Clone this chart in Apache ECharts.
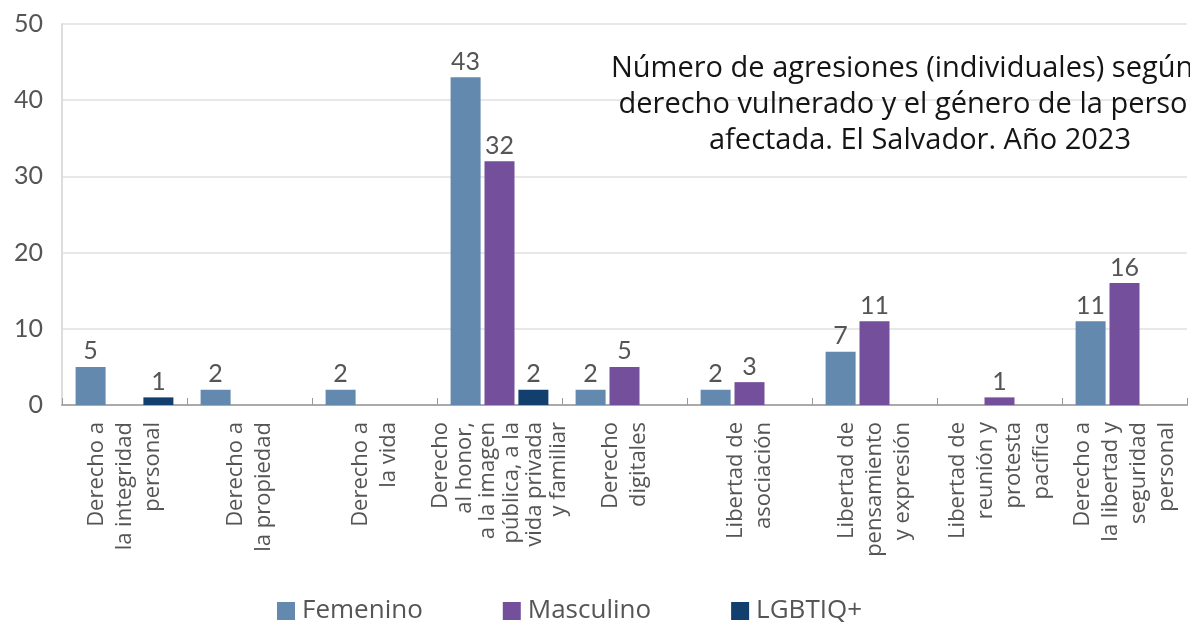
<!DOCTYPE html>
<html><head><meta charset="utf-8">
<script src="https://cdn.jsdelivr.net/npm/echarts@6/dist/echarts.min.js"></script>
<style>html,body{margin:0;padding:0;background:#fff}#c{width:1190px;height:622px}</style>
</head><body><div id="c"></div>
<script>
var categories = [
  "Derecho a\nla integridad\npersonal",
  "Derecho a\nla propiedad",
  "Derecho a\nla vida",
  "Derecho\nal honor,\na la imagen\npública, a la\nvida privada\ny familiar",
  "Derecho\ndigitales",
  "Libertad de\nasociación",
  "Libertad de\npensamiento\ny expresión",
  "Libertad de\nreunión y\nprotesta\npacífica",
  "Derecho a\nla libertad y\nseguridad\npersonal"
];
var femenino  = [5, 2, 2, 43, 2, 2, 7, null, 11];
var masculino = [null, null, null, 32, 5, 3, 11, 1, 16];
var lgbtiq    = [1, null, null, 2, null, null, null, null, null];
var yTicks = [0, 10, 20, 30, 40, 50];
var titleLines = [
  "Número de agresiones (individuales) según",
  "derecho vulnerado y el género de la persona",
  "afectada. El Salvador. Año 2023"
];

var NUMFONT = "Lato";
var TXTFONT = "Open Sans";
var chart = echarts.init(document.getElementById('c'), null, {renderer: 'canvas'});
function bar(name, data, color) {
  return {
    name: name, type: 'bar', data: data, barWidth: 30, barGap: '13%',
    itemStyle: {color: color},
    label: {show: true, position: 'top', distance: 3, color: '#555', fontFamily: NUMFONT, fontSize: 25,
      formatter: function(p){ return p.value == null ? '' : p.value; }}
  };
}
var catItems = categories.map(function(c){
  var lines = c.split('\n').length;
  return {value: c, textStyle: {lineHeight: lines > 5 ? 23.5 : 28}};
});
var titleStyle = {fill: '#151515', font: '29px "Open Sans"'};
chart.setOption({
  animation: false,
  grid: {left: 62, right: 3, top: 24, bottom: 217, containLabel: false},
  legend: {
    top: 593, left: 272, itemWidth: 18, itemHeight: 18, itemGap: 80,
    icon: 'rect',
    textStyle: {color: '#555', fontFamily: TXTFONT, fontSize: 26, padding: [0,0,0,2]},
    data: ['Femenino', 'Masculino', 'LGBTIQ+']
  },
  xAxis: {
    type: 'category', data: catItems,
    axisLine: {lineStyle: {color: '#aaa', width: 2}},
    axisTick: {show: true, inside: true, length: 7, lineStyle: {color: '#999'}},
    axisLabel: {rotate: 90, interval: 0, margin: 17, color: '#555', fontFamily: TXTFONT, fontSize: 22, lineHeight: 28}
  },
  yAxis: {
    type: 'value', min: yTicks[0], max: yTicks[yTicks.length-1], interval: 10,
    axisLine: {show: true, lineStyle: {color: '#ddd', width: 2}},
    splitLine: {lineStyle: {color: '#e8e8e8', width: 2}},
    axisLabel: {color: '#555', fontFamily: NUMFONT, fontSize: 25, margin: 19}
  },
  graphic: [
    {type: 'text', x: 611, y: 54, z: 10, style: Object.assign({text: titleLines[0], textAlign: 'left'}, titleStyle)},
    {type: 'text', x: 920, y: 90, z: 10, style: Object.assign({text: titleLines[1], textAlign: 'center'}, titleStyle)},
    {type: 'text', x: 920, y: 126, z: 10, style: Object.assign({text: titleLines[2], textAlign: 'center'}, titleStyle)}
  ],
  series: [
    bar('Femenino', femenino, '#6389ae'),
    bar('Masculino', masculino, '#744f9b'),
    bar('LGBTIQ+', lgbtiq, '#123f6e')
  ]
});
</script></body></html>
